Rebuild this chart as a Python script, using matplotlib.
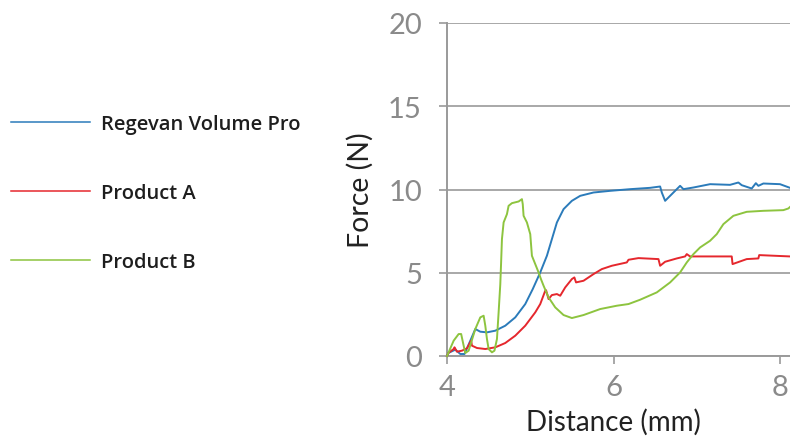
import numpy as np
import matplotlib.pyplot as plt

# curves (distance mm, force N)
regevan_x = [4.0, 4.016, 4.1, 4.16, 4.21, 4.28, 4.34, 4.40, 4.48, 4.58, 4.70, 4.82, 4.94,
             5.03, 5.12, 5.20, 5.26, 5.32, 5.40, 5.50, 5.60, 5.76, 5.96, 6.2, 6.44, 6.56,
             6.58, 6.62, 6.72, 6.80, 6.84, 6.96, 7.16, 7.40, 7.50, 7.54, 7.66, 7.71, 7.74,
             7.80, 8.0, 8.12]
regevan_y = [0.0, 0.18, 0.38, 0.12, 0.12, 0.92, 1.62, 1.46, 1.42, 1.52, 1.82, 2.32, 3.12,
             4.02, 5.02, 6.02, 7.02, 8.02, 8.82, 9.32, 9.62, 9.82, 9.92, 10.02, 10.1, 10.18,
             9.82, 9.32, 9.82, 10.22, 10.02, 10.12, 10.32, 10.28, 10.42, 10.26, 10.06, 10.38,
             10.22, 10.36, 10.32, 10.1]

prod_a_x = [4.0, 4.016, 4.08, 4.09, 4.12, 4.18, 4.24, 4.29, 4.30, 4.36, 4.46, 4.58, 4.70,
            4.82, 4.94, 5.06, 5.12, 5.18, 5.19, 5.22, 5.26, 5.32, 5.36, 5.42, 5.50, 5.53,
            5.55, 5.64, 5.76, 5.86, 5.98, 6.16, 6.18, 6.30, 6.54, 6.56, 6.62, 6.76, 6.86,
            6.88, 6.92, 7.42, 7.43, 7.60, 7.74, 7.75, 8.12]
prod_a_y = [0.0, 0.18, 0.42, 0.52, 0.26, 0.32, 0.46, 0.92, 0.62, 0.48, 0.42, 0.52, 0.78,
            1.22, 1.82, 2.62, 3.12, 3.92, 3.95, 3.42, 3.66, 3.72, 3.62, 4.12, 4.62, 4.72,
            4.42, 4.52, 4.92, 5.22, 5.42, 5.62, 5.78, 5.88, 5.82, 5.42, 5.66, 5.86, 5.98,
            6.12, 5.98, 5.98, 5.52, 5.82, 5.86, 6.06, 5.98]

prod_b_x = [4.0, 4.08, 4.14, 4.17, 4.2, 4.22, 4.26, 4.34, 4.40, 4.44, 4.46, 4.48, 4.50,
            4.54, 4.57, 4.60, 4.62, 4.64, 4.65, 4.66, 4.68, 4.72, 4.74, 4.78, 4.86, 4.9,
            4.91, 4.92, 4.96, 5.0, 5.02, 5.06, 5.10, 5.13, 5.16, 5.22, 5.30, 5.40, 5.5,
            5.64, 5.84, 6.04, 6.18, 6.32, 6.52, 6.68, 6.80, 6.88, 6.96, 7.04, 7.16, 7.24,
            7.32, 7.44, 7.6, 7.8, 8.04, 8.1, 8.12]
prod_b_y = [0.0, 0.92, 1.32, 1.32, 0.62, 0.18, 0.32, 1.62, 2.32, 2.42, 1.82, 1.02, 0.42,
            0.22, 0.32, 1.02, 2.62, 4.3, 5.62, 7.02, 8.02, 8.52, 9.02, 9.18, 9.28, 9.42,
            9.12, 8.42, 8.02, 7.32, 6.02, 5.52, 5.02, 4.6, 4.22, 3.52, 2.92, 2.46, 2.28,
            2.46, 2.82, 3.02, 3.12, 3.38, 3.82, 4.42, 5.02, 5.62, 6.12, 6.52, 6.92, 7.32,
            7.92, 8.42, 8.66, 8.72, 8.76, 8.86, 8.95]

labels = ['Regevan Volume Pro', 'Product A', 'Product B']
colors = ['#2b7bba', '#e5272d', '#8dc43f']

x_ticks = [4, 6, 8]
y_ticks = [0, 5, 10, 15, 20]

fig = plt.figure(figsize=(7.9, 4.39), dpi=100)
ax = fig.add_axes([447/790, 1 - 357/439, 1 - 447/790, (357 - 24)/439])

series = [(regevan_x, regevan_y), (prod_a_x, prod_a_y), (prod_b_x, prod_b_y)]
lines = []
for (xs, ys), lab, c in zip(series, labels, colors):
    ln, = ax.plot(xs, ys, color=c, lw=1.4, label=lab, zorder=3, clip_on=False,
                  solid_joinstyle='round')
    lines.append(ln)

ax.set_xlim(4, 8.12)
ax.set_ylim(0, 20)
ax.set_xticks(x_ticks)
ax.set_yticks(y_ticks)

grid_c = '#9a9a9a'
ax.grid(axis='y', color=grid_c, lw=1.2)
ax.set_axisbelow(True)
for s in ['top', 'right']:
    ax.spines[s].set_visible(False)
for s in ['left', 'bottom']:
    ax.spines[s].set_color(grid_c)
    ax.spines[s].set_linewidth(1.4)

ax.tick_params(axis='both', color=grid_c, length=6, width=1.2,
               labelcolor='#8a8a8a', labelsize=21)
ax.tick_params(axis='y', pad=12)
ax.tick_params(axis='x', pad=7)
for t in ax.get_xticklabels() + ax.get_yticklabels():
    t.set_fontfamily('Lato')

ax.set_xlabel('Distance (mm)', fontsize=20, color='#222222', family='Lato')
ax.set_ylabel('Force (N)', fontsize=20.5, color='#222222', family='Lato')
ax.xaxis.set_label_coords(0.485, -0.155)
ax.yaxis.set_label_coords(-0.215, 0.5)

leg = fig.legend(handles=lines, loc='upper left', bbox_to_anchor=(11/790, 0.739),
                 frameon=False, handlelength=3.9, handletextpad=0.55,
                 labelspacing=2.45, borderpad=0, borderaxespad=0,
                 prop={'family': 'Open Sans', 'weight': 'semibold', 'size': 14.5})
for h in leg.get_lines():
    h.set_linewidth(1.1)
for t in leg.get_texts():
    t.set_color('#1e1e1e')

fig.savefig('out.png', dpi=100)
